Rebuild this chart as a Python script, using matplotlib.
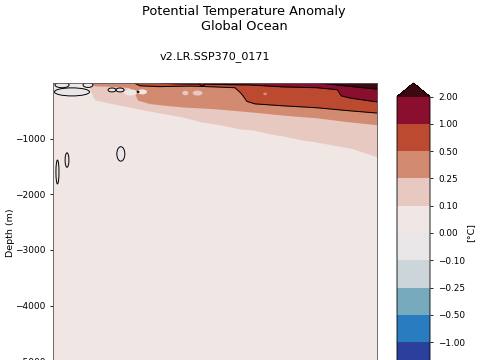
import matplotlib
matplotlib.use("Agg")
import matplotlib.pyplot as plt
from matplotlib.colors import ListedColormap, BoundaryNorm
from matplotlib.cm import ScalarMappable
from matplotlib.patches import Ellipse
from matplotlib.ticker import FuncFormatter

# colour levels (degC) and fill colours (under, 10 bins, over)
levels = [-2.0, -1.0, -0.5, -0.25, -0.1, 0.0, 0.1, 0.25, 0.5, 1.0, 2.0]
colors = ["#1b2050", "#2b3f9c", "#2a7cc0", "#78aabe", "#cbd5da", "#e8e6e7",
          "#f0e6e4", "#e7c9c1", "#d28a71", "#bc4a30", "#8a0f2f", "#3c0912"]

# depth (m) of the lower edge of each warm band
a_year = [2024, 2026, 2032, 2040, 2049, 2054, 2058, 2064, 2068, 2072, 2076,
          2080, 2084, 2088, 2093, 2097, 2100]
a_depth = [0, 300, 390, 500, 610, 700, 740, 825, 850, 915, 960,
           1020, 1060, 1110, 1170, 1255, 1330]

b_year = [2025, 2026, 2030, 2035, 2036.6, 2037.3, 2040.5, 2045, 2049, 2058,
          2067, 2075, 2084, 2093, 2100]
b_depth = [0, 50, 60, 80, 200, 310, 370, 405, 430, 465, 520, 575, 625, 700, 750]

c_year = [2036.4, 2037.9, 2043, 2051, 2057.6, 2062.8, 2064.3, 2065.0, 2065.9,
          2068, 2075.4, 2084.3, 2092.9, 2100]
c_depth = [0, 50, 65, 55, 70, 85, 180, 240, 330, 375, 410, 445, 500, 540]

d_year = [2043.2, 2047, 2053.4, 2054.2, 2055.0, 2061.5, 2066.7, 2075.4,
          2084.3, 2089.6, 2090.6, 2092.9, 2100]
d_depth = [0, 15, 20, 60, 20, 30, 35, 70, 85, 120, 230, 270, 340]

e_year = [2085, 2090, 2095.5, 2100]
e_depth = [0, 40, 80, 110]

# small closed contours (slightly negative anomalies)
blob_year = [2020.1, 2017.5, 2024.3, 2030.6, 2032.7, 2037.4, 2016.3, 2018.8, 2032.9]
blob_depth = [160, 35, 35, 125, 125, 160, 1600, 1385, 1275]
blob_w = [9.2, 3.7, 2.6, 2.1, 2.1, 0.5, 0.8, 1.0, 2.1]
blob_h = [145, 100, 90, 70, 70, 25, 430, 260, 260]

# lighter spots inside the warm bands
spot_year = [2035.5, 2038.5, 2049.8, 2053.0, 2070.7]
spot_depth = [170, 160, 180, 180, 195]
spot_w = [3.5, 2.5, 1.6, 2.6, 1.0]
spot_h = [110, 90, 80, 90, 50]
spot_color = ["#f0e6e4", "#f0e6e4", "#e7c9c1", "#e7c9c1", "#d28a71"]

year_min, year_max = 2015, 2100
depth_max = 5375

plt.rcParams["font.family"] = "DejaVu Sans"

fig = plt.figure(figsize=(4.8, 3.6), dpi=100)
ax = fig.add_axes([52.5 / 480, (360 - 382) / 360, 324.5 / 480, 299 / 360])
ax.set_facecolor(colors[6])

# warm bands, each filled from the surface down to its lower edge
for yr, dp, col in [(a_year, a_depth, colors[7]), (b_year, b_depth, colors[8]),
                    (c_year, c_depth, colors[9]), (d_year, d_depth, colors[10]),
                    (e_year, e_depth, colors[11])]:
    ax.fill_between(yr, 0, [-d for d in dp], color=col, lw=0)

for yr, dp, w, h, col in zip(spot_year, spot_depth, spot_w, spot_h, spot_color):
    ax.add_patch(Ellipse((yr, -dp), w, h, facecolor=col, edgecolor="none"))

# contour lines at 0.5, 1 and 2 degC
for yr, dp in [(c_year, c_depth), (d_year, d_depth), (e_year, e_depth)]:
    ax.plot(yr, [-d for d in dp], color="black", lw=0.7)

for yr, dp, w, h in zip(blob_year, blob_depth, blob_w, blob_h):
    ax.add_patch(Ellipse((yr, -dp), w, h, facecolor=colors[5],
                         edgecolor="black", lw=0.7))

ax.set_xlim(year_min, year_max)
ax.set_ylim(-depth_max, 0)
ax.set_yticks([-5000, -4000, -3000, -2000, -1000])
ax.set_ylabel("Depth (m)", fontsize=6.8, labelpad=0)
ax.tick_params(labelsize=6.5, length=2.5, width=0.6, pad=2.5)
ax.tick_params(axis="x", labelbottom=False)
for s in ax.spines.values():
    s.set_linewidth(0.6)
    s.set_color("#555555")
ax.set_title("v2.LR.SSP370_0171", fontsize=8.0, pad=17)

fig.text(244 / 480, 1 - 19 / 360, "Potential Temperature Anomaly\nGlobal Ocean",
         ha="center", va="center", fontsize=9.3)

cmap = ListedColormap(colors[1:-1])
cmap.set_under(colors[0])
cmap.set_over(colors[-1])
norm = BoundaryNorm(levels, cmap.N)
cax = fig.add_axes([397 / 480, (360 - 383) / 360, 33 / 480, 300 / 360])
cb = fig.colorbar(ScalarMappable(norm=norm, cmap=cmap), cax=cax,
                  extend="both", ticks=levels,
                  format=FuncFormatter(lambda v, p: f"{v:.2f}".replace("-", "\u2212")))
cb.ax.tick_params(labelsize=6.4, length=2.5, width=0.6)
cb.outline.set_linewidth(0.6)
cb.set_label("[°C]", fontsize=6.8, labelpad=1)

fig.savefig("out.png", dpi=100)
